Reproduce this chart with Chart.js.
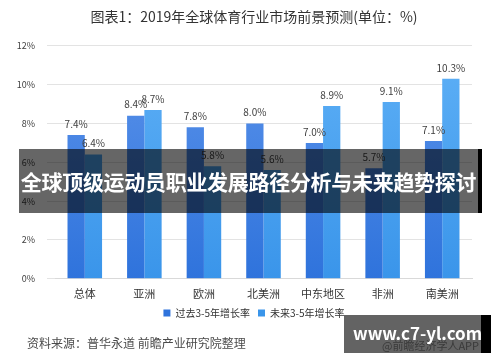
<!DOCTYPE html>
<html>
<head>
<meta charset="utf-8">
<script src="https://cdn.jsdelivr.net/npm/chart.js@4/dist/chart.umd.min.js"></script>
<style>
    html, body { margin: 0; padding: 0; background: #fff; }
    #wrap { position: relative; width: 500px; height: 362px; overflow: hidden; }
    #chart { position: absolute; left: 0; top: 0; }
    .source {
        position: absolute; left: 27px; top: 334px;
        font: 12px "Noto Sans CJK SC", sans-serif; color: #4a4a4a;
    }
    .banner {
        position: absolute; left: 19px; top: 149px; width: 463px; height: 64px;
        background: rgba(0, 0, 0, 0.6); border-right: 4px solid #000;
        box-sizing: border-box;
        color: #fff; font: bold 21px "Noto Sans CJK SC", sans-serif;
        line-height: 64px; text-align: center; white-space: nowrap; letter-spacing: -0.3px;
    }
    .mark {
        position: absolute; left: 344px; top: 315px; width: 147px; height: 38px;
        background: #636363; border-right: 10px solid #000; box-sizing: border-box;
    }
    .mark .url {
        position: absolute; left: 9px; top: 5px;
        color: #fff; font: bold 17px "Noto Sans CJK SC", sans-serif; white-space: nowrap;
    }
    .mark .app {
        position: absolute; left: 38px; top: 22px;
        color: #3a3a3a; font: 11px "Noto Sans CJK SC", sans-serif; white-space: nowrap;
    }
</style>
</head>
<body>
<div id="wrap">
    <canvas id="chart" width="500" height="362"></canvas>
    <div class="source">资料来源：普华永道 前瞻产业研究院整理</div>
    <div class="banner">全球顶级运动员职业发展路径分析与未来趋势探讨</div>
    <div class="mark"><span class="app">@前瞻经济学人APP</span><span class="url">www.c7-yl.com</span></div>
</div>
<script>
const regions = ["总体", "亚洲", "欧洲", "北美洲", "中东地区", "非洲", "南美洲"];
const pastGrowth = [7.4, 8.4, 7.8, 8.0, 7.0, 5.7, 7.1];
const futureGrowth = [6.4, 8.7, 5.8, 5.6, 8.9, 9.1, 10.3];
const seriesNames = ["过去3-5年增长率", "未来3-5年增长率"];

const FONT = "'Noto Sans CJK SC', sans-serif";

// vertical gradient per bar, lighter at the top
const barFill = (top, bottom) => (ctx) => {
    const area = ctx.chart.chartArea;
    if (!area) return bottom;
    const g = ctx.chart.ctx.createLinearGradient(0, area.top, 0, area.bottom);
    g.addColorStop(0, top);
    g.addColorStop(1, bottom);
    return g;
};

const valueLabels = {
    id: "valueLabels",
    afterDatasetsDraw(chart) {
        const ctx = chart.ctx;
        ctx.save();
        ctx.font = "10px " + FONT;
        ctx.fillStyle = "#404040";
        ctx.textAlign = "center";
        ctx.textBaseline = "bottom";
        chart.data.datasets.forEach((ds, i) => {
            chart.getDatasetMeta(i).data.forEach((bar, j) => {
                ctx.fillText(ds.data[j].toFixed(1) + "%", bar.x, bar.y - 6);
            });
        });
        ctx.restore();
    },
};

new Chart(document.getElementById("chart"), {
    type: "bar",
    data: {
        labels: regions,
        datasets: [
            {
                label: seriesNames[0],
                data: pastGrowth,
                backgroundColor: barFill("#5b93ea", "#2f73dc"),
                categoryPercentage: 0.58,
                barPercentage: 1.0,
            },
            {
                label: seriesNames[1],
                data: futureGrowth,
                backgroundColor: barFill("#5eb0f6", "#3a95ea"),
                categoryPercentage: 0.58,
                barPercentage: 1.0,
            },
        ],
    },
    options: {
        responsive: false,
        animation: false,
        layout: { padding: { left: 8, right: 0, top: 0, bottom: 34 } },
        plugins: {
            title: {
                display: true,
                text: "图表1：2019年全球体育行业市场前景预测(单位：%)",
                color: "#333",
                font: { family: FONT, size: 14, weight: "normal" },
                padding: { top: 8, bottom: 21 },
            },
            legend: {
                position: "bottom",
                labels: {
                    boxWidth: 7,
                    boxHeight: 7,
                    color: "#333",
                    padding: 8,
                    font: { family: FONT, size: 10 },
                },
            },
            tooltip: { enabled: false },
        },
        scales: {
            x: {
                grid: { display: false },
                border: { color: "#d9d9d9" },
                ticks: { color: "#333", font: { family: FONT, size: 11 }, padding: 0 },
            },
            y: {
                min: 0,
                max: 12,
                afterFit: (scale) => { scale.width = 47; },
                ticks: {
                    stepSize: 2,
                    color: "#404040",
                    font: { family: FONT, size: 9 },
                    padding: 12,
                    callback: (v) => v + "%",
                },
                grid: { color: "#e3e3e3" },
                border: { display: false },
            },
            // empty right-hand axis, only keeps room on the right
            yRight: {
                position: "right",
                min: 0,
                max: 12,
                afterFit: (scale) => { scale.width = 28; },
                ticks: { display: false },
                grid: { display: false },
                border: { display: false },
            },
        },
    },
    plugins: [valueLabels],
});
</script>
</body>
</html>
